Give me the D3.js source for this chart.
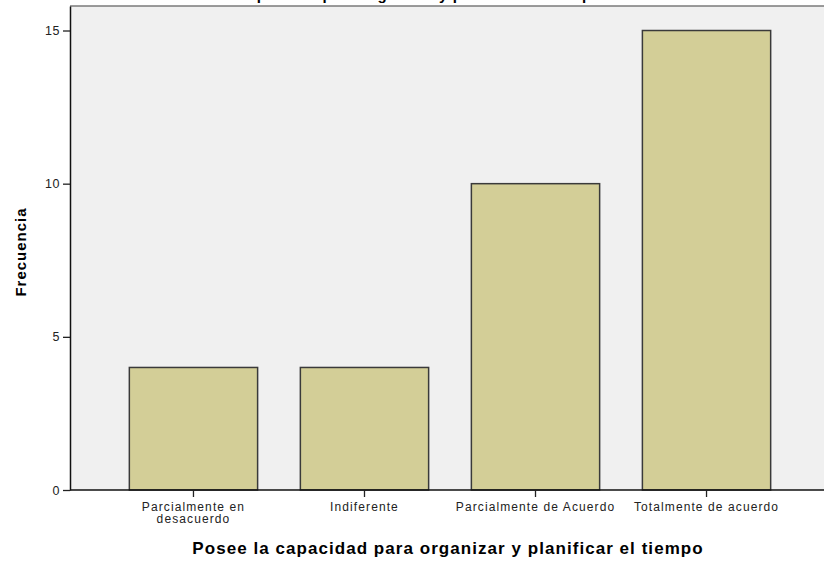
<!DOCTYPE html>
<html>
<head>
<meta charset="utf-8">
<script src="https://cdn.jsdelivr.net/npm/d3@7"></script>
<style>
  body { margin: 0; background: #fff; }
  svg { display: block; font-family: "Liberation Sans", Arial, sans-serif; }
</style>
</head>
<body>
<div id="chart"></div>
<script>
const categories = ['Parcialmente en desacuerdo', 'Indiferente', 'Parcialmente de Acuerdo', 'Totalmente de acuerdo'];
const frecuencia = [4, 4, 10, 15];
const yTicks = [0, 5, 10, 15];
const titleText = 'Posee la capacidad para organizar y planificar el tiempo';
const xTitle = 'Posee la capacidad para organizar y planificar el tiempo';
const yTitle = 'Frecuencia';

const width = 824;
const height = 561;
const margin = { top: 6, right: -6, bottom: 71, left: 70 };

const svg = d3.select('#chart')
  .append('svg')
  .attr('width', width)
  .attr('height', height);

const x = d3.scaleBand()
  .domain(categories)
  .range([margin.left, width - margin.right])
  .paddingInner(0.25)
  .paddingOuter(0.347);

const y = d3.scaleLinear()
  .domain([0, 15.8])
  .range([height - margin.bottom, margin.top]);

// plot background
svg.append('rect')
  .attr('x', margin.left)
  .attr('y', margin.top)
  .attr('width', width - margin.right - margin.left)
  .attr('height', height - margin.bottom - margin.top)
  .attr('fill', '#f0f0f0');

svg.append('line')
  .attr('x1', margin.left).attr('x2', width)
  .attr('y1', margin.top).attr('y2', margin.top)
  .attr('stroke', '#7a7a7a')
  .attr('stroke-width', 1.5);

// cut-off title at the very top
svg.append('text')
  .attr('x', 385)
  .attr('y', 0)
  .attr('text-anchor', 'middle')
  .attr('font-size', 15)
  .attr('font-weight', 'bold')
  .attr('letter-spacing', 0.6)
  .attr('fill', '#000')
  .text(titleText);

// bars
svg.selectAll('.bar')
  .data(frecuencia)
  .enter()
  .append('rect')
  .attr('class', 'bar')
  .attr('x', (d, i) => x(categories[i]))
  .attr('y', (d) => y(d))
  .attr('width', x.bandwidth())
  .attr('height', (d) => y(0) - y(d))
  .attr('fill', '#d3ce97')
  .attr('stroke', '#3a3a3a')
  .attr('stroke-width', 1.5);

// y axis
const yAxis = svg.append('g')
  .attr('transform', `translate(${margin.left},0)`)
  .call(d3.axisLeft(y).tickValues(yTicks).tickSize(7).tickPadding(3).tickSizeOuter(0));
yAxis.select('.domain').attr('stroke', '#111').attr('stroke-width', 1.5);
yAxis.selectAll('.tick line').attr('stroke', '#222').attr('stroke-width', 1.3);
yAxis.selectAll('.tick text')
  .attr('font-size', 12.5)
  .attr('fill', '#222')
  .attr('letter-spacing', 0.6)
  .attr('font-family', '"Liberation Sans", Arial, sans-serif');

// x axis
const xAxis = svg.append('g')
  .attr('transform', `translate(0,${y(0)})`)
  .call(d3.axisBottom(x).tickSize(7).tickPadding(5).tickSizeOuter(0));
xAxis.select('.domain')
  .attr('d', `M${margin.left},0H${width}`)
  .attr('stroke', '#111')
  .attr('stroke-width', 1.5);
xAxis.selectAll('.tick line').attr('stroke', '#222').attr('stroke-width', 1.3);
xAxis.selectAll('.tick text')
  .attr('font-size', 12)
  .attr('fill', '#222')
  .attr('letter-spacing', 1.1)
  .attr('font-family', '"Liberation Sans", Arial, sans-serif')
  .call(wrap, x.step());

function wrap(texts, maxWidth) {
  texts.each(function () {
    const text = d3.select(this);
    const words = text.text().split(/\s+/);
    const yPos = text.attr('y');
    text.text(null);
    let line = [];
    let lineNo = 0;
    let tspan = text.append('tspan').attr('x', 0).attr('y', yPos).attr('dy', '0.71em');
    words.forEach((w) => {
      line.push(w);
      tspan.text(line.join(' '));
      if (tspan.node().getComputedTextLength() > maxWidth && line.length > 1) {
        line.pop();
        tspan.text(line.join(' '));
        line = [w];
        lineNo += 1;
        tspan = text.append('tspan')
          .attr('x', 0)
          .attr('y', yPos)
          .attr('dy', `${0.71 + lineNo * 1.0}em`)
          .text(w);
      }
    });
  });
}

// axis titles
svg.append('text')
  .attr('x', 448)
  .attr('y', 554)
  .attr('text-anchor', 'middle')
  .attr('font-size', 17)
  .attr('font-weight', 'bold')
  .attr('letter-spacing', 1.05)
  .attr('fill', '#000')
  .text(xTitle);

svg.append('text')
  .attr('transform', 'translate(26,252) rotate(-90)')
  .attr('text-anchor', 'middle')
  .attr('font-size', 15)
  .attr('font-weight', 'bold')
  .attr('letter-spacing', 1)
  .attr('fill', '#000')
  .text(yTitle);
</script>
</body>
</html>
